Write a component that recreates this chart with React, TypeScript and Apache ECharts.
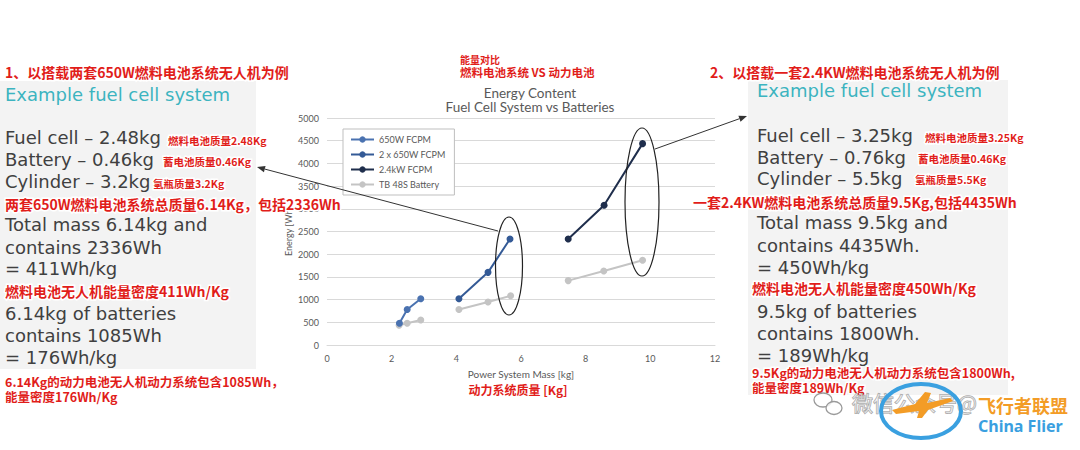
import React, { useEffect, useRef } from "react";
import * as echarts from "echarts";

// ---- data ----
const seriesNames = ["650W FCPM", "2 x 650W FCPM", "2.4kW FCPM", "TB 48S Battery"];
const fcpm650Mass = [2.24, 2.48, 2.9];
const fcpm650Energy = [480, 780, 1020];
const fcpm2x650Mass = [4.08, 4.98, 5.66];
const fcpm2x650Energy = [1020, 1600, 2336];
const fcpm24Mass = [7.46, 8.57, 9.76];
const fcpm24Energy = [2336, 3080, 4435];
const battSmallMass = [2.23, 2.48, 2.9];
const battSmallEnergy = [434, 478, 551];
const battMidMass = [4.08, 4.98, 5.68];
const battMidEnergy = [780, 948, 1085];
const battLargeMass = [7.46, 8.56, 9.76];
const battLargeEnergy = [1418, 1630, 1866];

const leftLines = [
  "Fuel cell – 2.48kg",
  "Battery – 0.46kg",
  "Cylinder – 3.2kg",
  "Total mass 6.14kg and",
  "contains 2336Wh",
  "= 411Wh/kg",
  "6.14kg of batteries",
  "contains 1085Wh",
  "= 176Wh/kg",
];
const rightLines = [
  "Fuel cell – 3.25kg",
  "Battery – 0.76kg",
  "Cylinder – 5.5kg",
  "Total mass 9.5kg and",
  "contains 4435Wh.",
  "= 450Wh/kg",
  "9.5kg of batteries",
  "contains 1800Wh.",
  "= 189Wh/kg",
];

const pairs = (xs: number[], ys: number[]) => xs.map((x, i) => [x, ys[i]]);

const CJK = '"Noto Sans CJK SC", sans-serif';
const EN = '"DejaVu Sans", sans-serif';
const CH = 'Lato, "Open Sans", sans-serif';

function red(text: string, x: number, y: number, size: number, align = "left") {
  const st = {
    text,
    fontSize: size,
    fontWeight: "bold",
    fontFamily: CJK,
    align,
    verticalAlign: "middle",
    textAlign: align,
    textVerticalAlign: "middle",
  };
  return [
    {
      type: "text", x, y, z: 79, silent: true,
      style: { ...st, fill: "#fff", stroke: "#fff", lineWidth: 3, shadowBlur: 3, shadowColor: "rgba(140,0,0,0.45)", shadowOffsetY: 1 },
    },
    { type: "text", x, y, z: 80, silent: true, style: { ...st, fill: "#e11d1a" } },
  ];
}

function txt(text: string, x: number, y: number, size: number, color: string, family: string, align = "left", weight = "normal") {
  return {
    type: "text", x, y, z: 70, silent: true,
    style: {
      text, fontSize: size, fontFamily: family, fontWeight: weight, fill: color,
      align, verticalAlign: "middle", textAlign: align, textVerticalAlign: "middle",
    },
  };
}

function arrow(x1: number, y1: number, x2: number, y2: number) {
  const dx = x2 - x1, dy = y2 - y1;
  const L = Math.hypot(dx, dy);
  const ux = dx / L, uy = dy / L;
  const len = 8, w = 3.2;
  const bx = x2 - ux * len, by = y2 - uy * len;
  return [
    { type: "line", z: 60, silent: true, shape: { x1, y1, x2: bx, y2: by }, style: { stroke: "#333", lineWidth: 1 } },
    {
      type: "polygon", z: 60, silent: true,
      shape: { points: [[x2, y2], [bx - uy * w, by + ux * w], [bx + uy * w, by - ux * w]] },
      style: { fill: "#333" },
    },
  ];
}

export default function App() {
  const ref = useRef<HTMLDivElement>(null);
  useEffect(() => {
    if (!ref.current) return;
    const chart = echarts.init(ref.current, null, { renderer: "svg" });

    const leftY = [137, 159, 181, 224, 247, 268, 313, 335, 357];
    const rightY = [135, 157, 178, 222, 245, 267, 311, 333, 355];

    const elements: any[] = [
      // panels
      { type: "rect", z: 0, silent: true, shape: { x: 0, y: 81, width: 256, height: 288 }, style: { fill: "#f3f3f3" } },
      { type: "rect", z: 0, silent: true, shape: { x: 748, y: 80, width: 260, height: 315 }, style: { fill: "#f3f3f3" } },
      // chart titles
      txt("Energy Content", 530, 93, 13.5, "#595959", CH, "center"),
      txt("Fuel Cell System vs Batteries", 530, 107, 13.5, "#595959", CH, "center"),
      ...red("能量对比", 460, 59, 10),
      ...red("燃料电池系统 VS 动力电池", 460, 72, 11.5),
      ...red("动力系统质量 [Kg]", 518, 389, 12, "center"),
      // left panel
      ...red("1、以搭载两套650W燃料电池系统无人机为例", 5, 72, 14),
      txt("Example fuel cell system", 5, 94, 18, "#3cb4c0", EN),
      ...leftLines.map((t, i) => txt(t, 5, leftY[i], 18, "#404040", EN)),
      ...red("燃料电池质量2.48Kg", 168, 140, 10.5),
      ...red("蓄电池质量0.46Kg", 163, 161, 10.5),
      ...red("氢瓶质量3.2Kg", 153, 183, 10.5),
      ...red("两套650W燃料电池系统总质量6.14Kg，包括2336Wh", 5, 204, 14),
      ...red("燃料电池无人机能量密度411Wh/Kg", 5, 291, 14),
      ...red("6.14Kg的动力电池无人机动力系统包含1085Wh，", 5, 381.5, 12.5),
      ...red("能量密度176Wh/Kg", 5, 396, 12.5),
      // right panel
      ...red("2、以搭载一套2.4KW燃料电池系统无人机为例", 710, 72, 14),
      txt("Example fuel cell system", 757, 90, 18, "#3cb4c0", EN),
      ...rightLines.map((t, i) => txt(t, 757, rightY[i], 18, "#404040", EN)),
      ...red("燃料电池质量3.25Kg", 925, 137, 10.5),
      ...red("蓄电池质量0.46Kg", 918, 158, 10.5),
      ...red("氢瓶质量5.5Kg", 915, 179, 10.5),
      ...red("一套2.4KW燃料电池系统总质量9.5Kg,包括4435Wh", 693, 202, 14),
      ...red("燃料电池无人机能量密度450Wh/Kg", 752, 288, 14),
      ...red("9.5Kg的动力电池无人机动力系统包含1800Wh,", 752, 372.5, 12.5),
      ...red("能量密度189Wh/Kg", 752, 387, 12.5),
      // annotations
      { type: "ellipse", z: 55, silent: true, shape: { cx: 509, cy: 266, rx: 13.5, ry: 49 }, style: { fill: "none", stroke: "#222", lineWidth: 1.2 } },
      { type: "ellipse", z: 55, silent: true, shape: { cx: 642, cy: 202, rx: 17, ry: 74 }, style: { fill: "none", stroke: "#222", lineWidth: 1.2 } },
      ...arrow(498, 231, 257, 167),
      ...arrow(655, 149, 747, 116),
      // watermark
      { type: "ellipse", z: 90, silent: true, shape: { cx: 823, cy: 400, rx: 9, ry: 7 }, style: { fill: "rgba(255,255,255,0.6)", stroke: "#9a9a9a", lineWidth: 1.3 } },
      { type: "ellipse", z: 90, silent: true, shape: { cx: 834, cy: 408, rx: 8, ry: 6.5 }, style: { fill: "rgba(255,255,255,0.8)", stroke: "#9a9a9a", lineWidth: 1.3 } },
      {
        type: "text", x: 852, y: 402, z: 90, silent: true,
        style: { text: "微信公众号@", fontSize: 21, fontFamily: CJK, fill: "rgba(255,255,255,0.5)", stroke: "#a0a0a0", lineWidth: 1, verticalAlign: "middle", textVerticalAlign: "middle" },
      },
      { type: "ellipse", z: 92, silent: true, shape: { cx: 921, cy: 411, rx: 40, ry: 27 }, style: { fill: "none", stroke: "#3aa0e0", lineWidth: 4 } },
      {
        type: "polygon", z: 93, silent: true,
        shape: { points: [[892, 410], [915, 404], [925, 392], [931, 393], [927, 403], [950, 398], [953, 401], [928, 410], [922, 418], [917, 418], [919, 411], [896, 414]] },
        style: { fill: "#f39c26" },
      },
      txt("飞行者联盟", 978, 405, 18, "#f39c26", CJK, "left", "bold"),
      txt("China Flier", 978, 426, 16, "#3a9fe0", '"Noto Sans", sans-serif', "left", "bold"),
    ];

    const lineSeries = (name: string, data: number[][], color: string, width = 2) => ({
      name,
      type: "line",
      data,
      symbol: "circle",
      symbolSize: 7,
      lineStyle: { color, width },
      itemStyle: { color },
      z: 3,
    });

    chart.setOption({
      animation: false,
      backgroundColor: "#ffffff",
      textStyle: { fontFamily: CH },
      grid: { left: 327, right: 365, top: 118, bottom: 105, containLabel: false },
      legend: {
        data: seriesNames,
        orient: "vertical",
        left: 343,
        top: 129,
        padding: [6, 9, 6, 7],
        itemWidth: 23,
        itemHeight: 8,
        itemGap: 6,
        borderColor: "#bfbfbf",
        borderWidth: 1,
        backgroundColor: "#ffffff",
        textStyle: { fontSize: 9, color: "#595959", fontFamily: CH },
        z: 10,
      },
      xAxis: {
        type: "value",
        min: 0,
        max: 12,
        interval: 2,
        splitLine: { show: false },
        axisLine: { show: true, lineStyle: { color: "#d9d9d9", width: 1 } },
        axisTick: { show: false },
        axisLabel: { fontSize: 9, color: "#595959", margin: 9, fontFamily: CH, formatter: (v: number) => String(v) },
        name: "Power System Mass [kg]",
        nameLocation: "middle",
        nameGap: 24,
        nameTextStyle: { fontSize: 10, color: "#595959", fontFamily: CH },
      },
      yAxis: {
        type: "value",
        min: 0,
        max: 5000,
        interval: 500,
        axisLine: { show: false },
        axisTick: { show: false },
        splitLine: { lineStyle: { color: "#d9d9d9", width: 1 } },
        axisLabel: { fontSize: 9, color: "#595959", margin: 8, fontFamily: CH, formatter: (v: number) => String(v) },
        name: "Energy [Wh]",
        nameLocation: "middle",
        nameGap: 34,
        nameTextStyle: { fontSize: 9, color: "#595959", fontFamily: CH },
      },
      series: [
        lineSeries(seriesNames[3], pairs(battSmallMass, battSmallEnergy), "#c4c4c4"),
        lineSeries(seriesNames[3], pairs(battMidMass, battMidEnergy), "#c4c4c4"),
        lineSeries(seriesNames[3], pairs(battLargeMass, battLargeEnergy), "#c4c4c4"),
        lineSeries(seriesNames[0], pairs(fcpm650Mass, fcpm650Energy), "#4a72b0"),
        lineSeries(seriesNames[1], pairs(fcpm2x650Mass, fcpm2x650Energy), "#345a96"),
        lineSeries(seriesNames[2], pairs(fcpm24Mass, fcpm24Energy), "#1f2e4c"),
      ],
      graphic: { elements },
    });

    return () => chart.dispose();
  }, []);

  return (
    <div
      ref={ref}
      style={{ position: "fixed", left: 0, top: 0, width: 1080, height: 450, background: "#fff" }}
    />
  );
}
